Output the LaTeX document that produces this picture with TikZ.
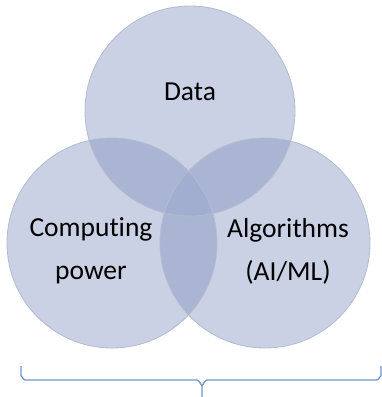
\documentclass[tikz,border=0pt]{standalone}
\usepackage{fontspec}
\setmainfont[Ligatures=NoCommon]{Carlito}
\definecolor{oneC}{HTML}{CBD1E4}
\definecolor{twoC}{HTML}{AAB5D4}
\definecolor{threeC}{HTML}{A2AED0}
\definecolor{edgeC}{HTML}{B3BBD0}
\definecolor{braceC}{HTML}{6F97CC}
\tikzset{
  lbl/.style={font=\fontsize{27.5bp}{43bp}\selectfont, align=center, inner sep=0pt, text=black},
  ring/.style={draw=edgeC, line width=0.8bp},
  bracestyle/.style={draw=braceC, line width=1.3bp, line join=round}
}
\begin{document}
\begin{tikzpicture}[x=1bp,y=-1bp]
\useasboundingbox (0,0) rectangle (382,397);
\def\rr{105}
\coordinate (T) at (190,111);
\coordinate (L) at (112,243);
\coordinate (R) at (265,243);
% single
\fill[oneC] (T) circle (\rr);
\fill[oneC] (L) circle (\rr);
\fill[oneC] (R) circle (\rr);
% doubles
\begin{scope}\clip (T) circle (\rr); \fill[twoC] (L) circle (\rr); \fill[twoC] (R) circle (\rr);\end{scope}
\begin{scope}\clip (L) circle (\rr); \fill[twoC] (R) circle (\rr);\end{scope}
% triple
\begin{scope}\clip (T) circle (\rr); \clip (L) circle (\rr); \fill[threeC] (R) circle (\rr);\end{scope}
% outlines
\draw[ring] (T) circle (\rr);
\draw[ring] (L) circle (\rr);
\draw[ring] (R) circle (\rr);
% labels
\node[lbl, anchor=base] (data) at (190,100) {Data};
\node[lbl] (comp) at (91,251) {Computing\\power};
\node[lbl] (alg) at (288,251) {Algorithms\\(AI/ML)};
% brace
\coordinate (bl) at (21,366);
\coordinate (br) at (381,366);
\coordinate (bt) at (202,397);
\draw[bracestyle] (bl) -- ++(0,10) to[out=90,in=180] ++(4,4) -- (197,380) to[out=0,in=-90] ++(5,5) -- (bt);
\draw[bracestyle] (br) -- ++(0,10) to[out=90,in=0] ++(-4,4) -- (207,380) to[out=180,in=-90] ++(-5,5);
\end{tikzpicture}
\end{document}
